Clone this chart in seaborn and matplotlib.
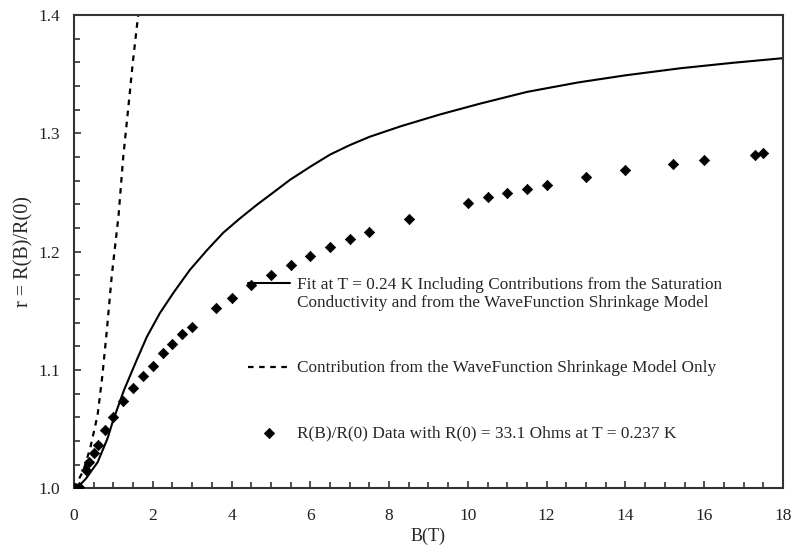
import matplotlib
matplotlib.use("Agg")
import matplotlib.pyplot as plt
import seaborn as sns
import pandas as pd
from matplotlib.ticker import MultipleLocator

# measured data R(B)/R(0)
b_data = [0, 0.13, 0.3, 0.39, 0.5, 0.6, 0.8, 1.0, 1.25, 1.5, 1.75, 2.0, 2.25, 2.5,
          2.75, 3.0, 3.6, 4.0, 4.5, 5.0, 5.5, 6.0, 6.5, 7.0, 7.5, 8.5, 10.0, 10.5,
          11.0, 11.5, 12.0, 13.0, 14.0, 15.2, 16.0, 17.3, 17.5]
r_data = [1.0, 1.001, 1.0155, 1.0225, 1.030, 1.0366, 1.0493, 1.0605, 1.0735, 1.085,
          1.095, 1.1037, 1.1144, 1.1222, 1.1301, 1.1366, 1.152, 1.161, 1.1716, 1.1806,
          1.189, 1.1966, 1.204, 1.2107, 1.2167, 1.2279, 1.2412, 1.2458, 1.2496, 1.2533,
          1.2566, 1.2629, 1.2688, 1.2743, 1.2771, 1.2818, 1.2830]

# full fit (saturation + shrinkage)
b_fit = [0, 0.1, 0.3, 0.6, 0.85, 1.0, 1.27, 1.6, 1.85, 2.18, 2.52, 2.94, 3.37, 3.79,
         4.21, 4.64, 5.06, 5.48, 6.0, 6.5, 7.0, 7.5, 8.3, 9.3, 10.3, 11.5, 12.8, 14.0,
         15.4, 16.7, 18.0]
r_fit = [1.0, 1.001, 1.008, 1.022, 1.042, 1.058, 1.083, 1.109, 1.128, 1.148, 1.165,
         1.1845, 1.201, 1.216, 1.228, 1.2395, 1.250, 1.2606, 1.2718, 1.282, 1.290,
         1.297, 1.306, 1.316, 1.325, 1.335, 1.343, 1.349, 1.355, 1.3595, 1.3635]

# shrinkage model only
b_wf = [0, 0.24, 0.42, 0.6, 0.72, 0.83, 0.96, 1.13, 1.25, 1.38, 1.5, 1.63]
r_wf = [1.0, 1.015, 1.035, 1.062, 1.095, 1.132, 1.18, 1.23, 1.28, 1.322, 1.362, 1.40]

lbl_fit = ("Fit at T = 0.24 K Including Contributions from the Saturation\n"
           "Conductivity and from the WaveFunction Shrinkage Model")
lbl_wf = "Contribution from the WaveFunction Shrinkage Model Only"
lbl_data = "R(B)/R(0) Data with R(0) = 33.1 Ohms at T = 0.237 K"

sns.set_theme(style="ticks")
plt.rcParams['font.family'] = ['Liberation Serif', 'DejaVu Serif']
plt.rcParams['font.size'] = 12

fig = plt.figure(figsize=(7.93, 5.49), dpi=100)
ax = fig.add_axes([0.0933, 0.1106, 0.8941, 0.8621])

df_fit = pd.DataFrame({"B": b_fit, "r": r_fit})
df_wf = pd.DataFrame({"B": b_wf, "r": r_wf})
df_data = pd.DataFrame({"B": b_data, "r": r_data})

sns.lineplot(data=df_fit, x="B", y="r", ax=ax, color="black", lw=1.5,
             estimator=None, sort=False, label=lbl_fit)
sns.lineplot(data=df_wf, x="B", y="r", ax=ax, color="black", lw=1.6,
             estimator=None, sort=False, label=lbl_wf, dashes=False)
ax.lines[-1].set_dashes((2.5, 2.5))
sns.scatterplot(data=df_data, x="B", y="r", ax=ax, color="black", marker="D",
                s=28, edgecolor="black", linewidth=0.5, label=lbl_data, zorder=3)

ax.set_xlim(0, 18)
ax.set_ylim(1.0, 1.4)
ax.xaxis.set_major_locator(MultipleLocator(2))
ax.xaxis.set_minor_locator(MultipleLocator(0.5))
ax.yaxis.set_major_locator(MultipleLocator(0.1))
ax.yaxis.set_minor_locator(MultipleLocator(0.02))
ax.yaxis.set_major_formatter(plt.FormatStrFormatter("%.1f"))
ax.tick_params(which="both", direction="in", colors="#333333", labelsize=12.5,
               width=1.2, labelcolor="#222222")
ax.tick_params(which="major", length=5)
ax.tick_params(which="minor", length=4)
ax.tick_params(axis="x", which="major", pad=14)
ax.tick_params(axis="y", which="major", pad=10)
for sp in ax.spines.values():
    sp.set_color("#333333")
    sp.set_linewidth(1.5)

ax.set_xlabel("B(T)", fontsize=13, labelpad=2.5)
ax.set_ylabel("r = R(B)/R(0)", fontsize=14.5, labelpad=3.5)

leg = ax.legend(loc="upper left", bbox_to_anchor=(248 / 793, 1 - 277 / 549),
                bbox_transform=fig.transFigure, frameon=False, fontsize=12.4,
                borderpad=0, borderaxespad=0, handlelength=2.45,
                handletextpad=0.42, labelspacing=2.85)
for col in leg._legend_handle_box.get_children():
    for row in col.get_children():
        row.align = "top"

fig.savefig("out.png", dpi=100)
